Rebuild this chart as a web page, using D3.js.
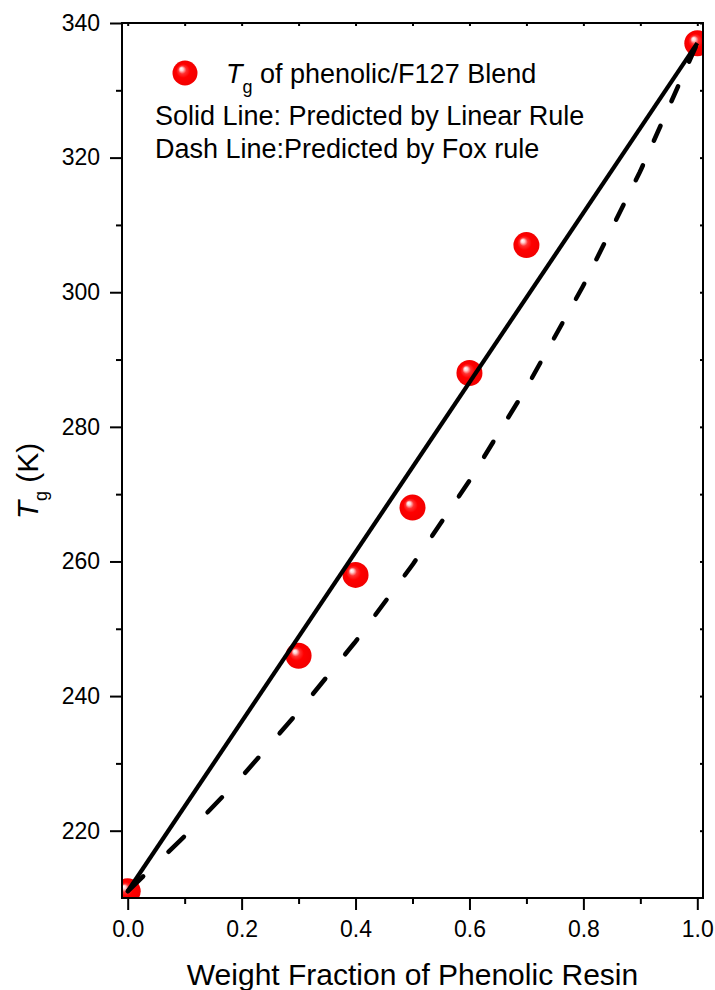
<!DOCTYPE html>
<html>
<head>
<meta charset="utf-8">
<script src="https://cdn.jsdelivr.net/npm/d3@7"></script>
<style>
  body { margin: 0; background: #fff; }
  svg { display: block; font-family: "Liberation Sans", Arial, sans-serif; }
</style>
</head>
<body>
<svg width="715" height="990"></svg>
<script>
// measured Tg of the blends
const fraction = [0, 0.3, 0.4, 0.5, 0.6, 0.7, 1.0];
const tgMeasured = [211, 246, 258, 268, 288, 307, 337];

// linear rule line (end points)
const linearW = [0, 1];
const linearTg = [211, 337];

// Fox rule curve
const foxW = [0, 0.1, 0.2, 0.3, 0.4, 0.5, 0.6, 0.7, 0.8, 0.9, 1.0];
const foxTg = [211, 219.2, 228, 237.7, 248.1, 259.5, 272, 285.8, 301, 318, 337];

const xMajor = [0, 0.2, 0.4, 0.6, 0.8, 1.0];
const xMinor = [0.1, 0.3, 0.5, 0.7, 0.9];
const yMajor = [220, 240, 260, 280, 300, 320, 340];
const yMinor = [230, 250, 270, 290, 310, 330];

const svg = d3.select("svg");
const mLeft = 122, mRight = 703, mTop = 23, mBottom = 898;

const x = d3.scaleLinear().domain([-0.01, 1.01]).range([mLeft, mRight]);
const y = d3.scaleLinear().domain([210, 340]).range([mBottom, mTop]);

// sphere gradient for markers
const defs = svg.append("defs");
const grad = defs.append("radialGradient")
    .attr("id", "ball").attr("cx", "50%").attr("cy", "50%").attr("r", "50%")
    .attr("fx", "34%").attr("fy", "32%");
grad.append("stop").attr("offset", "0%").attr("stop-color", "#ffffff");
grad.append("stop").attr("offset", "14%").attr("stop-color", "#ffd0d0");
grad.append("stop").attr("offset", "32%").attr("stop-color", "#ff3030");
grad.append("stop").attr("offset", "55%").attr("stop-color", "#ff0000");
grad.append("stop").attr("offset", "100%").attr("stop-color", "#f20000");

defs.append("clipPath").attr("id", "plot")
  .append("rect").attr("x", mLeft).attr("y", mTop)
  .attr("width", mRight - mLeft).attr("height", mBottom - mTop);

const plot = svg.append("g").attr("clip-path", "url(#plot)");

// markers
plot.selectAll("circle.pt")
    .data(fraction)
    .enter().append("circle")
    .attr("class", "pt")
    .attr("cx", d => x(d))
    .attr("cy", (d, i) => y(tgMeasured[i]))
    .attr("r", 13)
    .attr("fill", "url(#ball)");

// solid line: linear rule
plot.append("path")
    .datum(linearW.map((w, i) => [w, linearTg[i]]))
    .attr("d", d3.line().x(d => x(d[0])).y(d => y(d[1])))
    .attr("fill", "none").attr("stroke", "#000").attr("stroke-width", 4.2);

// dashed line: Fox rule. Dashes are laid out evenly along the vertical
const foxInv = d3.scaleLinear().domain(foxTg).range(foxW);
const dashLen = 15, dashPeriod = 39.5;
const yStart = y(foxTg[0]), yEnd = y(foxTg[foxTg.length - 1]);
const dashes = [];
for (let py = yStart; py > yEnd; py -= dashPeriod) {
  const p0 = py, p1 = Math.max(py - dashLen, yEnd);
  const pts = d3.range(0, 1.001, 0.25).map(t => {
    const tg = y.invert(p0 + (p1 - p0) * t);
    return [foxInv(tg), tg];
  });
  dashes.push(pts);
}
plot.selectAll("path.fox")
    .data(dashes)
    .enter().append("path")
    .attr("class", "fox")
    .attr("d", d3.line().x(d => x(d[0])).y(d => y(d[1])))
    .attr("fill", "none").attr("stroke", "#000")
    .attr("stroke-width", 4.5).attr("stroke-linecap", "round");

// frame
svg.append("rect")
    .attr("x", mLeft).attr("y", mTop)
    .attr("width", mRight - mLeft).attr("height", mBottom - mTop)
    .attr("fill", "none").attr("stroke", "#000").attr("stroke-width", 2);

// axes
const axisStyle = g => {
  g.select(".domain").remove();
  g.selectAll(".tick line").attr("stroke", "#000").attr("stroke-width", 2);
};

svg.append("g")
    .attr("transform", `translate(0,${mBottom})`)
    .call(d3.axisBottom(x).tickValues(xMajor).tickFormat(d3.format(".1f"))
      .tickSize(12).tickPadding(11))
    .call(axisStyle)
    .call(g => g.selectAll("text").attr("font-size", 23).attr("fill", "#000")
      .attr("font-family", "Liberation Sans, Arial, sans-serif"));
svg.append("g")
    .attr("transform", `translate(0,${mBottom})`)
    .call(d3.axisBottom(x).tickValues(xMinor).tickFormat("").tickSize(6))
    .call(axisStyle);

svg.append("g")
    .attr("transform", `translate(${mLeft},0)`)
    .call(d3.axisLeft(y).tickValues(yMajor).tickSize(12).tickPadding(10))
    .call(axisStyle)
    .call(g => g.selectAll("text").attr("font-size", 23).attr("fill", "#000")
      .attr("font-family", "Liberation Sans, Arial, sans-serif"));
svg.append("g")
    .attr("transform", `translate(${mLeft},0)`)
    .call(d3.axisLeft(y).tickValues(yMinor).tickFormat("").tickSize(6))
    .call(axisStyle);

// small inner ticks on top and right
svg.append("g")
    .attr("transform", `translate(0,${mTop})`)
    .call(d3.axisBottom(x).tickValues(xMajor.concat(xMinor)).tickFormat("").tickSize(3))
    .call(axisStyle);
svg.append("g")
    .attr("transform", `translate(${mRight},0)`)
    .call(d3.axisLeft(y).tickValues(yMajor.concat(yMinor)).tickFormat("").tickSize(3))
    .call(axisStyle);

// axis titles
svg.append("text")
    .attr("x", (x(0) + x(1)) / 2).attr("y", 985)
    .attr("text-anchor", "middle").attr("font-size", 30)
    .text("Weight Fraction of Phenolic Resin");

const yt = svg.append("text")
    .attr("transform", "translate(38,481) rotate(-90)")
    .attr("text-anchor", "middle").attr("font-size", 30);
yt.append("tspan").attr("font-style", "italic").text("T");
yt.append("tspan").attr("font-size", 18).attr("dy", 9).text("g");
yt.append("tspan").attr("dy", -9).text(" (K)");

// legend
svg.append("circle")
    .attr("cx", 185).attr("cy", 73).attr("r", 12.5)
    .attr("fill", "url(#ball)");
const l1 = svg.append("text").attr("x", 226).attr("y", 83).attr("font-size", 27);
l1.append("tspan").attr("font-style", "italic").text("T");
l1.append("tspan").attr("font-size", 18).attr("dy", 10).text("g");
l1.append("tspan").attr("dy", -10).text(" of phenolic/F127 Blend");

svg.append("text").attr("x", 155).attr("y", 125).attr("font-size", 27)
    .text("Solid Line: Predicted by Linear Rule");
svg.append("text").attr("x", 155).attr("y", 158).attr("font-size", 27)
    .text("Dash Line:Predicted by Fox rule");
</script>
</body>
</html>
